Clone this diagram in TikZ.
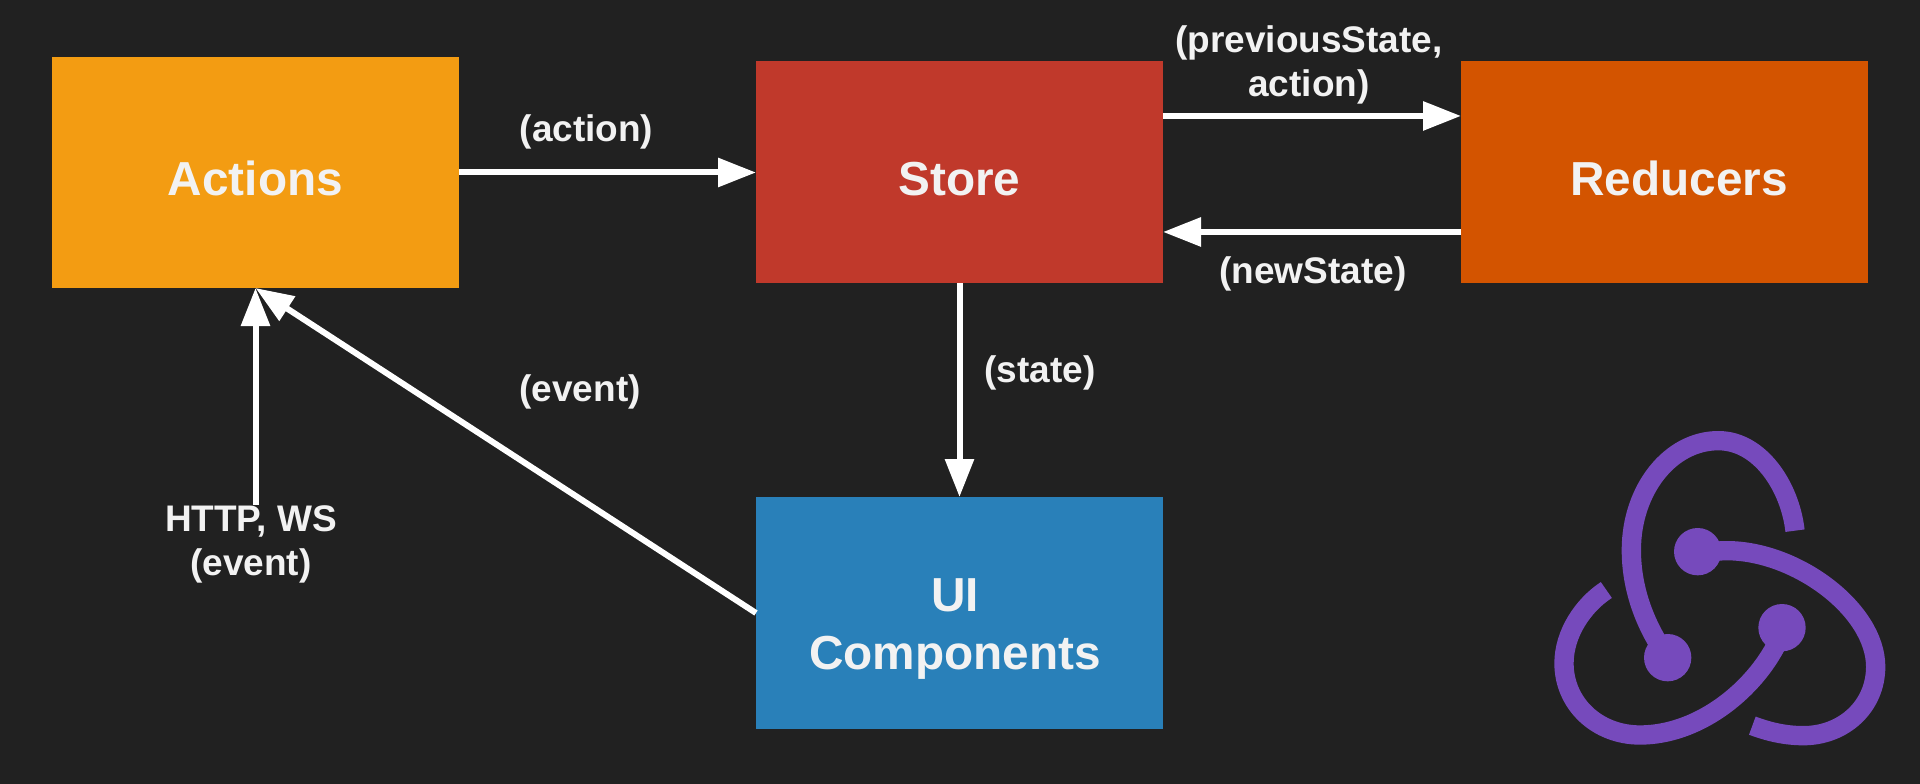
\documentclass[tikz,border=0pt]{standalone}
\usepackage{fontspec}
\setmainfont{Liberation Sans}
\usetikzlibrary{arrows.meta}
\definecolor{bgdark}{HTML}{212121}
\definecolor{actionsorange}{HTML}{F39C12}
\definecolor{storered}{HTML}{C0392B}
\definecolor{reducersorange}{HTML}{D35400}
\definecolor{uiblue}{HTML}{2980B9}
\definecolor{reduxpurple}{HTML}{764ABC}
\tikzset{
  boxnode/.style={minimum width=305.25pt, inner sep=0pt, outer sep=0pt, text=white!95!black,
    align=center, font=\bfseries\fontsize{35.8}{43.5}\selectfont},
  labelnode/.style={text=white!95!black, align=center, inner sep=0pt, outer sep=0pt,
    font=\bfseries\fontsize{27.75}{33.4}\selectfont},
  flow/.style={draw=white, line width=4.5pt, -{Triangle[length=28.5pt,width=21pt]}},
  logoline/.style={draw=reduxpurple, line width=14.5pt},
  logoball/.style={circle, fill=reduxpurple, minimum size=35.5pt, inner sep=0pt},
}
\begin{document}
\begin{tikzpicture}[x=0.75pt, y=-0.75pt]
  \useasboundingbox[fill=bgdark] (0,0) rectangle (1920,784);
  \node[boxnode, fill=actionsorange, minimum height=173.25pt, text height=35.25pt, text depth=0pt] (actions) at (255.5,172.5) {Actions};
  \node[boxnode, fill=storered, minimum height=166.5pt, text height=35.25pt, text depth=0pt] (store) at (959.5,172.5) {Store};
  \node[boxnode, fill=reducersorange, minimum height=166.5pt, text height=35.25pt, text depth=0pt] (reducers) at (1664.5,172.5) {\hspace*{22pt}Reducers};
  \node[boxnode, fill=uiblue, minimum height=174pt] (ui) at (959.5,613) {\rule{0pt}{49pt}UI\hspace*{6.75pt}\\Components\hspace*{6.75pt}};

  \node[labelnode] (actionlabel) at (586.5,132) {(action)};
  \node[labelnode] (prevlabel) at (1309,65) {(previousState,\\action)};
  \node[labelnode] (newlabel) at (1313,274) {(newState)};
  \node[labelnode] (statelabel) at (1040,373) {(state)};
  \node[labelnode] (eventlabel) at (580,392) {(event)};
  \node[labelnode] (httplabel) at (251,544.5) {HTTP, WS\\(event)};

  \draw[flow] (actions.east) -- (store.west);
  \draw[flow] ([yshift=42.4pt]store.east) -- ([yshift=42.4pt]reducers.west);
  \draw[flow] ([yshift=-44.6pt]reducers.west) -- ([yshift=-44.6pt]store.east);
  \draw[flow] (store.south) -- (ui.north);
  \draw[flow] (ui.west) -- (actions.south);
  \draw[flow] (actions.south |- httplabel.north) -- (actions.south);

  % logo, traced at three times the size
  \begin{scope}[shift={(1530,410)}, x=0.25pt, y=-0.25pt]
    \node[logoball] (ballleft) at (413,743) {};
    \node[logoball] (balltop) at (503,425) {};
    \node[logoball] (ballright) at (756,653) {};
    \draw[logoline] (795,362) .. controls (780,230) and (690,92) .. (565,92)
      .. controls (420,92) and (304,240) .. (304,420)
      .. controls (304,530) and (340,640) .. (ballleft.center);
    \draw[logoline] (balltop.center) -- (590,422)
      .. controls (800,422) and (1037,600) .. (1037,770)
      .. controls (1037,890) and (940,977) .. (820,977)
      .. controls (765,977) and (715,965) .. (667,947);
    \draw[logoline] (ballright.center) -- (735,712)
      .. controls (660,850) and (500,975) .. (330,975)
      .. controls (200,975) and (102,880) .. (102,760)
      .. controls (102,670) and (160,585) .. (229,540);
  \end{scope}
\end{tikzpicture}
\end{document}
